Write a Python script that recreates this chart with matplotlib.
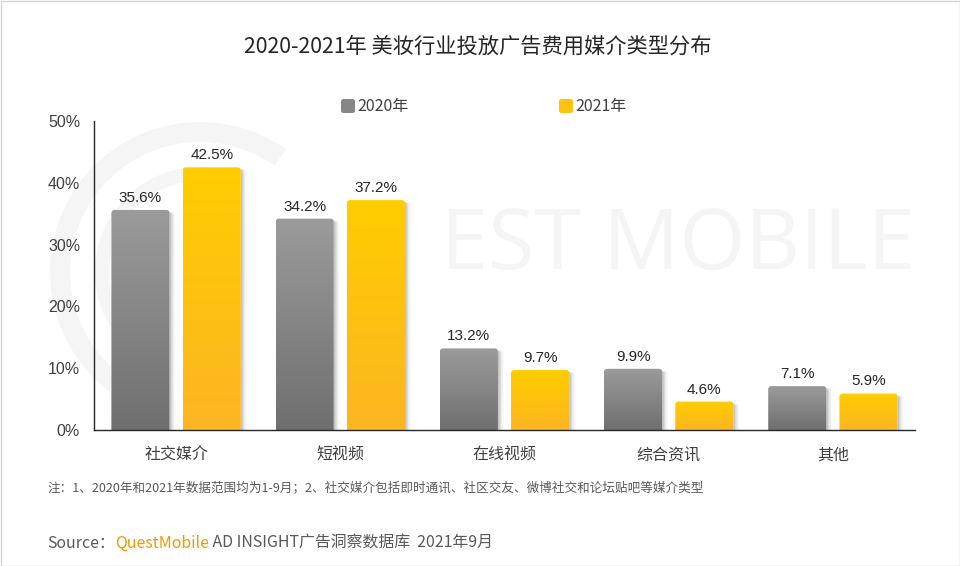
import matplotlib
matplotlib.use('Agg')
import numpy as np
import matplotlib.pyplot as plt
import matplotlib.transforms as mtransforms
from matplotlib.patches import FancyBboxPatch, Rectangle, Wedge
from matplotlib.colors import LinearSegmentedColormap

# ---------------- data ----------------
categories = ['社交媒介', '短视频', '在线视频', '综合资讯', '其他']
values_2020 = [35.6, 34.2, 13.2, 9.9, 7.1]
values_2021 = [42.5, 37.2, 9.7, 4.6, 5.9]
series_names = ['2020年', '2021年']
yticks = [0, 10, 20, 30, 40, 50]
ytick_labels = ['0%', '10%', '20%', '30%', '40%', '50%']
title = '2020-2021年 美妆行业投放广告费用媒介类型分布'
footnote = '注：1、2020年和2021年数据范围均为1-9月；2、社交媒介包括即时通讯、社区交友、微博社交和论坛贴吧等媒介类型'
source_parts = [('Source：', '#595959'), ('QuestMobile', '#f39800'),
                (' AD INSIGHT广告洞察数据库  2021年9月', '#595959')]

CJK = ['Noto Sans CJK SC', 'DejaVu Sans']
LAT = ['Liberation Sans', 'DejaVu Sans']
plt.rcParams['font.family'] = CJK

W, H = 960, 566
fig = plt.figure(figsize=(W / 100, H / 100), dpi=100)
fig.patch.set_facecolor('white')


def fx(px):
    return px / W


def fy(py):
    return 1 - py / H


ident = mtransforms.IdentityTransform()

# ---------------- watermark ----------------
wm_color = '#f5f5f5'
cx_logo, cy_logo = 200, H - 272
fig.patches.append(Wedge((cx_logo, cy_logo), 150, 55, 235, width=20,
                         transform=ident, facecolor=wm_color, edgecolor='none', zorder=-5))
fig.patches.append(Wedge((cx_logo, cy_logo), 105, 75, 215, width=14,
                         transform=ident, facecolor=wm_color, edgecolor='none', zorder=-5))
fig.text(fx(915), fy(247), 'EST MOBILE', ha='right', va='center', fontsize=61,
         family=['Open Sans', 'DejaVu Sans'], color=wm_color, zorder=-5)

# ---------------- axes ----------------
ax = fig.add_axes([fx(94), fy(430), fx(915) - fx(94), fy(121) - fy(430)])
ax.set_zorder(2)
ax.set_facecolor('none')
ax.set_xlim(-0.5, len(categories) - 0.5)
ax.set_ylim(0, 50)

x = np.arange(len(categories))
off = 0.217
bw = 0.354

cmap_gray = LinearSegmentedColormap.from_list('g', ['#6f6f6f', '#9b9b9b'])
cmap_yel = LinearSegmentedColormap.from_list('y', ['#fdb522', '#ffcd00'])

bars20 = ax.bar(x - off, values_2020, bw, color='none', edgecolor='none')
bars21 = ax.bar(x + off, values_2021, bw, color='none', edgecolor='none')

px_per_x = (915 - 94) / len(categories)
px_per_y = (430 - 121) / 50.0
r_x = 3.0 / px_per_x
aspect = (3.0 / px_per_y) / r_x
grad = np.linspace(1, 0, 256).reshape(-1, 1)

for bars, cmap in ((bars20, cmap_gray), (bars21, cmap_yel)):
    for rect in bars:
        x0, w, h = rect.get_x(), rect.get_width(), rect.get_height()
        # soft shadow on the right
        for dx, a in ((1.5, 0.18), (3.0, 0.12), (4.5, 0.07), (6.0, 0.03)):
            sh = FancyBboxPatch((x0 + dx / px_per_x, -2), w, h + 2 - 2.0 / px_per_y,
                                boxstyle=f'round,pad=0,rounding_size={r_x}',
                                mutation_aspect=aspect, facecolor='#555555',
                                edgecolor='none', alpha=a, zorder=2)
            ax.add_patch(sh)
        patch = FancyBboxPatch((x0, -2), w, h + 2,
                               boxstyle=f'round,pad=0,rounding_size={r_x}',
                               mutation_aspect=aspect, facecolor='white',
                               edgecolor='none', zorder=2.5)
        ax.add_patch(patch)
        im = ax.imshow(grad, extent=[x0, x0 + w, 0, h], aspect='auto', cmap=cmap,
                       vmin=0, vmax=1, origin='upper', zorder=3, interpolation='bilinear')
        im.set_clip_path(patch)

ax.set_xlim(-0.5, len(categories) - 0.5)
ax.set_ylim(0, 50)

for bars in (bars20, bars21):
    for rect in bars:
        v = rect.get_height()
        ax.annotate(f'{v:.1f}%', (rect.get_x() + rect.get_width() / 2, v),
                    xytext=(0, 5.8), textcoords='offset points', ha='center',
                    va='baseline', fontsize=11, family=LAT, color='#262626', zorder=5)

ax.set_xticks(x)
ax.set_xticklabels(categories, fontsize=11.5, color='#404040')
ax.set_yticks(yticks)
ax.set_yticklabels(ytick_labels, fontsize=11.5, family=LAT, color='#404040')
ax.tick_params(axis='both', length=0)
ax.tick_params(axis='x', pad=12)
ax.tick_params(axis='y', pad=10)
for s in ('top', 'right'):
    ax.spines[s].set_visible(False)
for s in ('left', 'bottom'):
    ax.spines[s].set_color('#262626')
    ax.spines[s].set_linewidth(1)
    ax.spines[s].set_zorder(6)

# ---------------- legend ----------------
leg_colors = ['#868686', '#fec30f']
leg_x = [341, 559]
for name, col, lx in zip(series_names, leg_colors, leg_x):
    fig.patches.append(FancyBboxPatch((lx, H - 113), 14, 14,
                                      boxstyle='round,pad=0,rounding_size=2.5',
                                      transform=ident, facecolor=col, edgecolor='none'))
    fig.text(fx(lx + 16), fy(106), name, ha='left', va='center', fontsize=11.5,
             color='#404040')

# ---------------- texts ----------------
fig.text(fx(477.5), fy(47), title, ha='center', va='center', fontsize=15.3, color='#262626')
fig.text(fx(47), fy(488), footnote, ha='left', va='center', fontsize=9.05, color='#595959')

renderer = fig.canvas.get_renderer()
cur_x = 47
for txt, col in source_parts:
    t = fig.text(fx(cur_x), fy(543), txt, ha='left', va='center', fontsize=11.45, color=col)
    bb = t.get_window_extent(renderer=renderer)
    cur_x += bb.width

# frame
fig.patches.append(Rectangle((0.5, 0.5), W - 1, H - 1, transform=ident, fill=False,
                             edgecolor='#d4d4d4', linewidth=1))

fig.savefig('out.png', dpi=100, facecolor='white')
